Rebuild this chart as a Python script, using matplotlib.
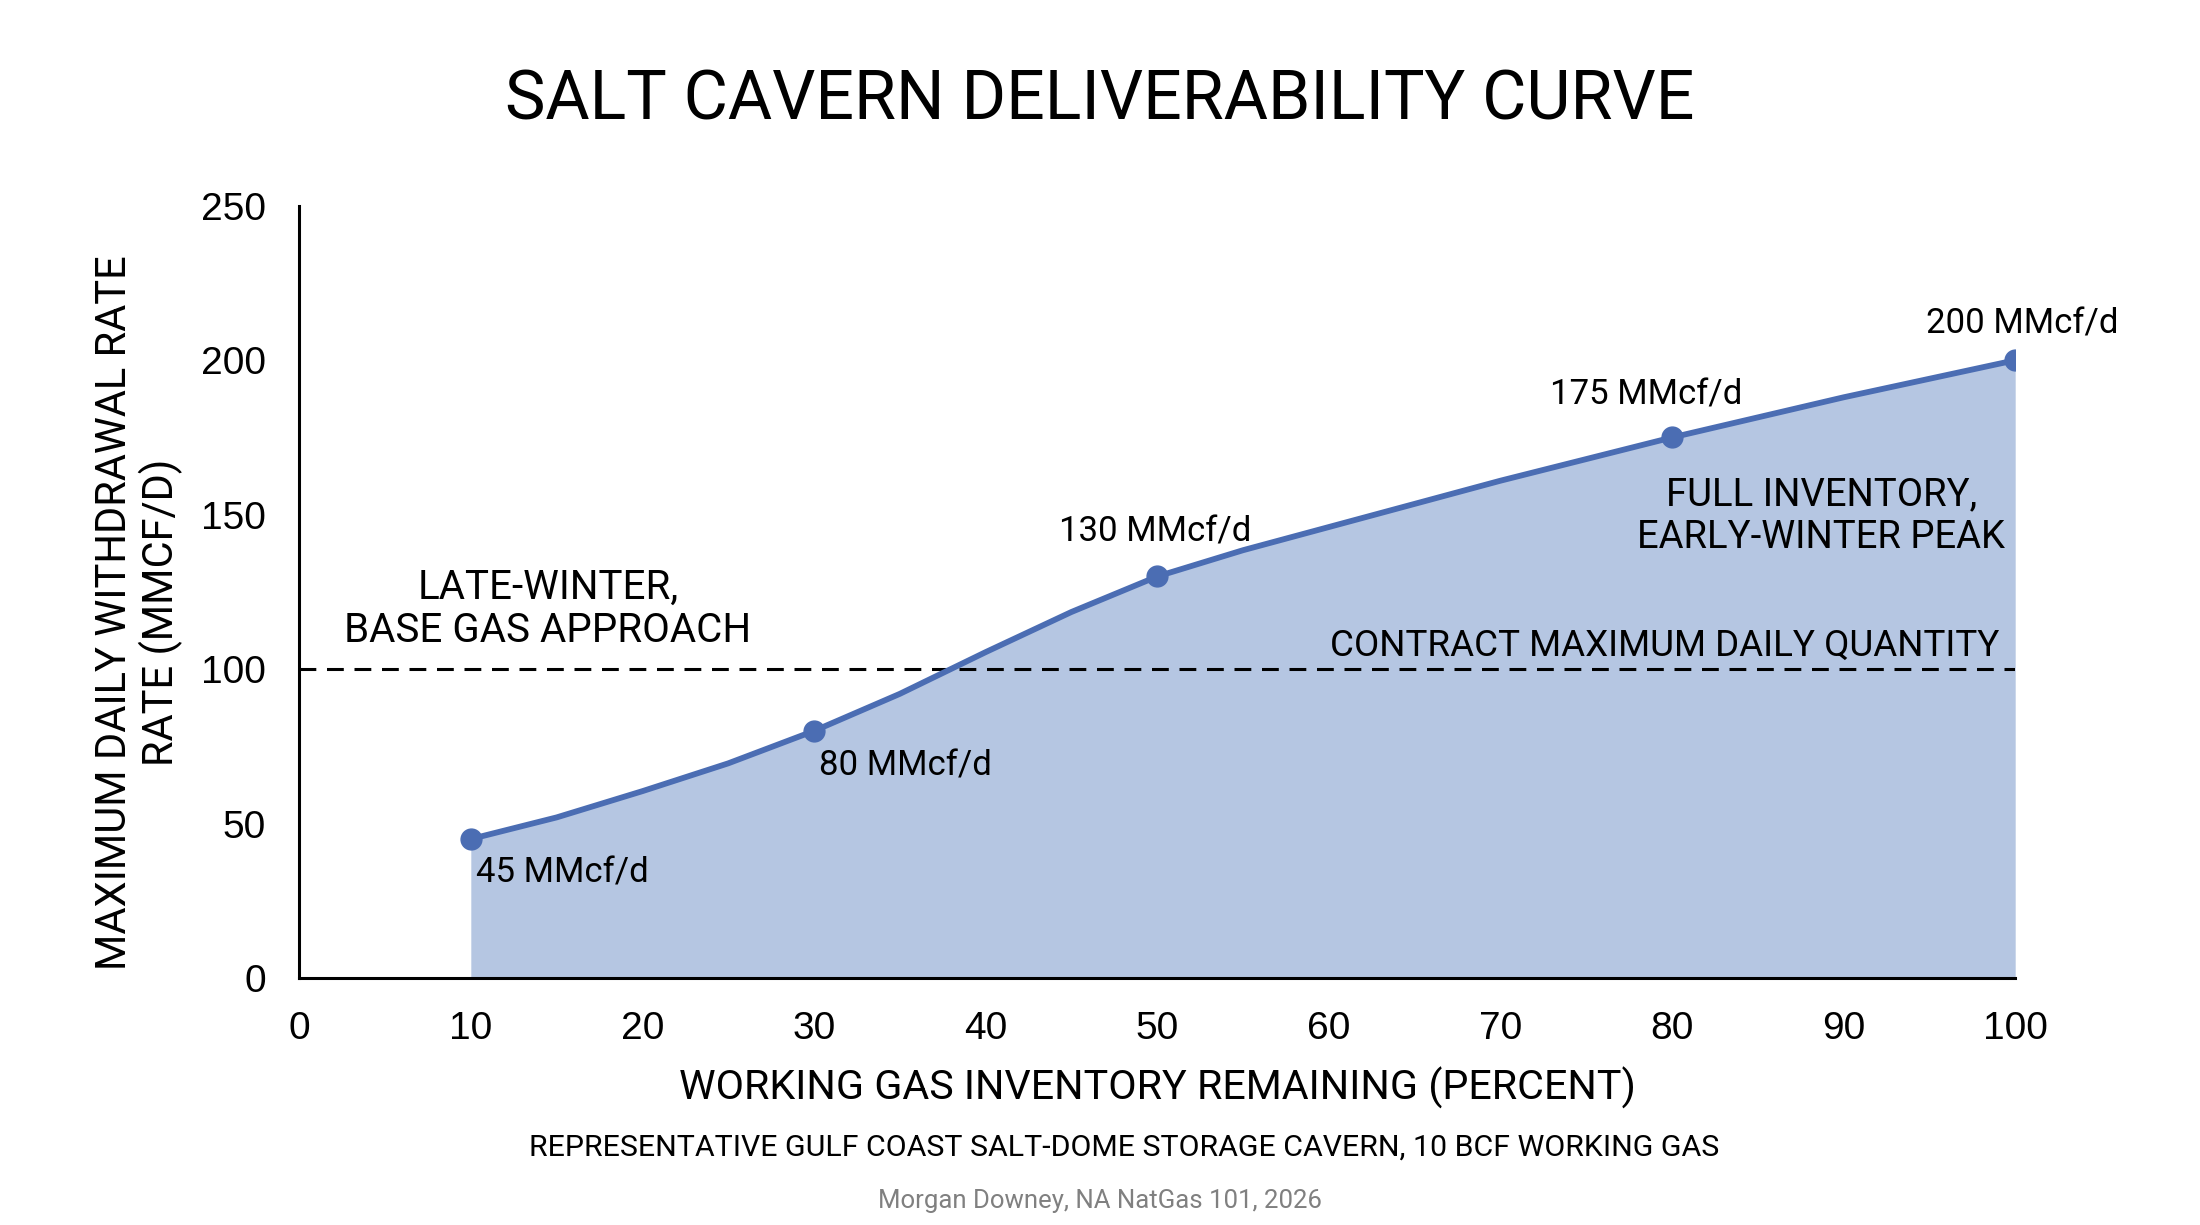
import numpy as np
import matplotlib
matplotlib.use('Agg')
import matplotlib.pyplot as plt

# data
inventory_pct = [10, 30, 50, 80, 100]
max_rate = [45, 80, 130, 175, 200]
point_labels = ['45 MMcf/d', '80 MMcf/d', '130 MMcf/d', '175 MMcf/d', '200 MMcf/d']

# curve traced at 5% steps
curve_pct = [10, 15, 20, 25, 30, 35, 40, 45, 50, 55, 60, 65, 70, 75, 80, 85, 90, 95, 100]
curve_rate = [45, 52, 60.5, 69.5, 80, 92, 105.5, 118.5, 130, 138.5, 146, 153.5, 161, 168, 175, 181.5, 188, 194, 200]

contract_mdq = 100
x_ticks = [0, 10, 20, 30, 40, 50, 60, 70, 80, 90, 100]
y_ticks = [0, 50, 100, 150, 200, 250]

line_color = '#4b6db3'
fill_color = '#b5c6e2'
txt_font = ['Roboto', 'DejaVu Sans']
tick_font = ['Liberation Sans', 'DejaVu Sans']

fig = plt.figure(figsize=(22, 12.25), dpi=100)
ax = fig.add_axes([0.136, 0.2016, 0.78, 0.6304])

ax.fill_between(curve_pct, 0, curve_rate, color=fill_color, linewidth=0, zorder=1)
ax.plot(curve_pct, curve_rate, color=line_color, linewidth=4.2, zorder=3,
        solid_capstyle='round', solid_joinstyle='round')
ax.plot(inventory_pct, max_rate, 'o', color=line_color, markersize=15, zorder=4)
ax.axhline(contract_mdq, color='black', linewidth=2.2, dashes=(5.5, 3.5), zorder=2)

# point labels
label_pos = [(10.3, 34.1, 'left'), (30.3, 68.6, 'left'), (49.9, 144.5, 'center'),
             (78.5, 188.6, 'center'), (100.4, 211.8, 'center')]
for (lx, ly, ha), lab in zip(label_pos, point_labels):
    ax.text(lx, ly, lab, ha=ha, va='center', fontsize=25, family=txt_font, zorder=5)

ax.text(14.5, 119.5, 'LATE-WINTER,\nBASE GAS APPROACH', ha='center', va='center',
        fontsize=29, family=txt_font, linespacing=1.15)
ax.text(88.7, 149.5, 'FULL INVENTORY,\nEARLY-WINTER PEAK', ha='center', va='center',
        fontsize=27.5, family=txt_font, linespacing=1.2)
ax.text(99.1, 101.8, 'CONTRACT MAXIMUM DAILY QUANTITY', ha='right', va='bottom',
        fontsize=26.5, family=txt_font)

ax.set_xlim(0, 100)
ax.set_ylim(0, 250)
ax.set_xticks(x_ticks)
ax.set_yticks(y_ticks)
ax.tick_params(length=0, pad=24, labelsize=28)
for lab in ax.get_xticklabels() + ax.get_yticklabels():
    lab.set_family(tick_font)
for side in ['top', 'right']:
    ax.spines[side].set_visible(False)
for side in ['left', 'bottom']:
    ax.spines[side].set_linewidth(2.2)

ax.set_xlabel('WORKING GAS INVENTORY REMAINING (PERCENT)', fontsize=29.7,
              family=txt_font, labelpad=14)
fig.text(0.063, 0.50, 'MAXIMUM DAILY WITHDRAWAL RATE\nRATE (MMCF/D)', rotation=90,
         ha='center', va='center', multialignment='center', fontsize=30,
         family=txt_font, linespacing=1.1)

fig.text(0.5, 0.918, 'SALT CAVERN DELIVERABILITY CURVE', ha='center', va='center',
         fontsize=49, family=txt_font)
fig.text(0.511, 0.063,
         'REPRESENTATIVE GULF COAST SALT-DOME STORAGE CAVERN, 10 BCF WORKING GAS',
         ha='center', va='center', fontsize=21.8, family=txt_font)
fig.text(0.5, 0.0196, 'Morgan Downey, NA NatGas 101, 2026', ha='center', va='center',
         fontsize=18.5, family=txt_font, color='#808080')

fig.savefig('out.png', dpi=100, facecolor='white')
